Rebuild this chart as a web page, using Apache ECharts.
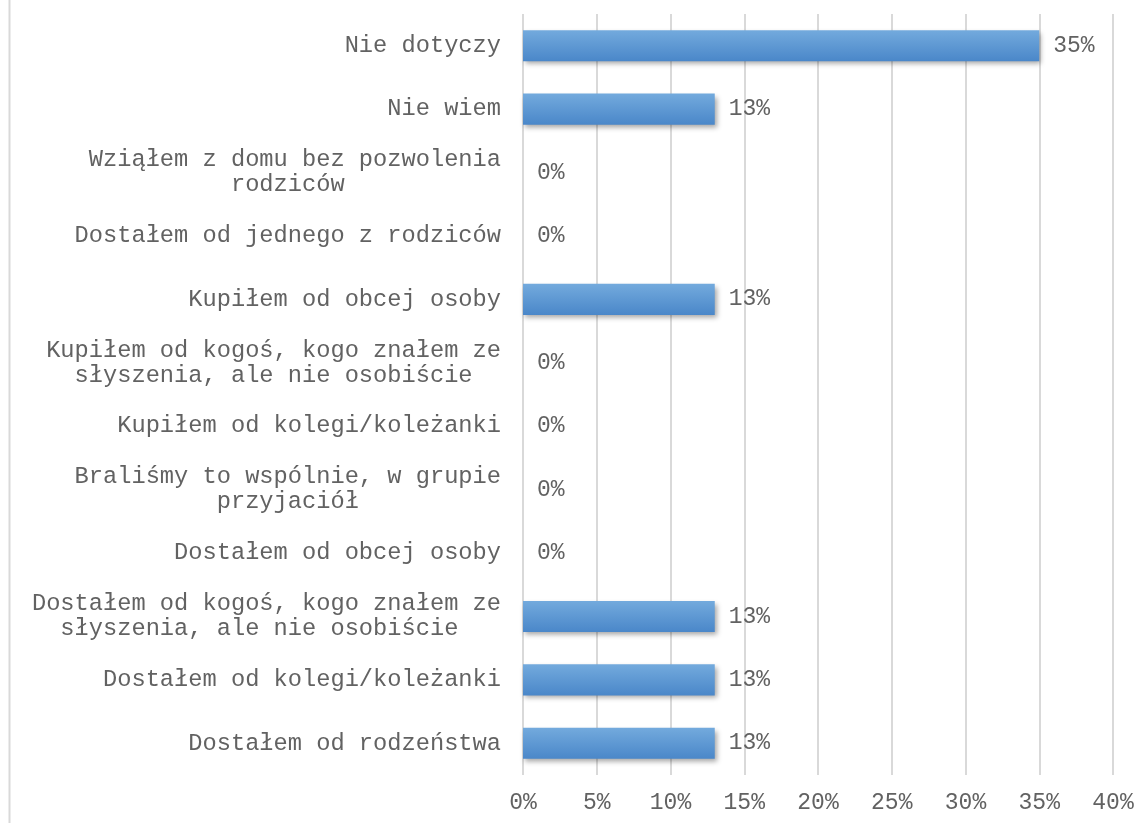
<!DOCTYPE html>
<html>
<head>
<meta charset="utf-8">
<script src="https://cdn.jsdelivr.net/npm/echarts@6/dist/echarts.min.js"></script>
<style>
  html, body { margin: 0; padding: 0; background: #fff; }
  #main { width: 1147px; height: 823px; }
</style>
</head>
<body>
<div id="main"></div>
<script>
// kategorie od góry do dołu
var categories = [
  'Nie dotyczy',
  'Nie wiem',
  'Wziąłem z domu bez pozwolenia\nrodziców',
  'Dostałem od jednego z rodziców',
  'Kupiłem od obcej osoby',
  'Kupiłem od kogoś, kogo znałem ze\nsłyszenia, ale nie osobiście',
  'Kupiłem od kolegi/koleżanki',
  'Braliśmy to wspólnie, w grupie\nprzyjaciół',
  'Dostałem od obcej osoby',
  'Dostałem od kogoś, kogo znałem ze\nsłyszenia, ale nie osobiście',
  'Dostałem od kolegi/koleżanki',
  'Dostałem od rodzeństwa'
];
var values = [35, 13, 0, 0, 13, 0, 0, 0, 0, 13, 13, 13];
var axisMin = 0, axisMax = 40, axisStep = 5;

var font = '"Liberation Mono", "Courier New", monospace';
var textColor = '#626262';

// font monospace -> centrowanie linii spacjami
function centerLines(s) {
  var lines = s.split('\n');
  var w = Math.max.apply(null, lines.map(function (l) { return l.length; }));
  return lines.map(function (l) {
    var pad = Math.round((w - l.length) / 2);
    return l + new Array(pad + 1).join(' ');
  }).join('\n');
}

var myChart = echarts.init(document.getElementById('main'));
myChart.setOption({
  backgroundColor: '#fff',
  animation: false,
  graphic: [{
    type: 'line',
    shape: { x1: 9.5, y1: 0, x2: 9.5, y2: 823 },
    style: { stroke: '#d9d9d9', lineWidth: 2 }
  }],
  grid: { left: 523, right: 34, top: 14, bottom: 48 },
  xAxis: {
    type: 'value',
    min: axisMin,
    max: axisMax,
    interval: axisStep,
    axisLine: { show: false },
    axisTick: { show: false },
    splitLine: { lineStyle: { color: '#d9d9d9', width: 2 } },
    axisLabel: {
      formatter: '{value}%',
      color: textColor,
      fontFamily: font,
      fontSize: 23,
      margin: 16
    }
  },
  yAxis: {
    type: 'category',
    inverse: true,
    data: categories,
    axisLine: { show: false },
    axisTick: { show: false },
    axisLabel: {
      formatter: centerLines,
      color: textColor,
      fontFamily: font,
      fontSize: 23.7,
      lineHeight: 25,
      margin: 22
    }
  },
  series: [{
    type: 'bar',
    data: values,
    barWidth: '49%',
    itemStyle: {
      color: new echarts.graphic.LinearGradient(0, 0, 0, 1, [
        { offset: 0, color: '#73aadd' },
        { offset: 1, color: '#4a87c9' }
      ]),
      shadowColor: 'rgba(0,0,0,0.35)',
      shadowBlur: 5,
      shadowOffsetX: 2,
      shadowOffsetY: 3
    },
    label: {
      show: true,
      position: 'right',
      distance: 14,
      formatter: '{c}%',
      color: textColor,
      fontFamily: font,
      fontSize: 23
    }
  }]
});
</script>
</body>
</html>
